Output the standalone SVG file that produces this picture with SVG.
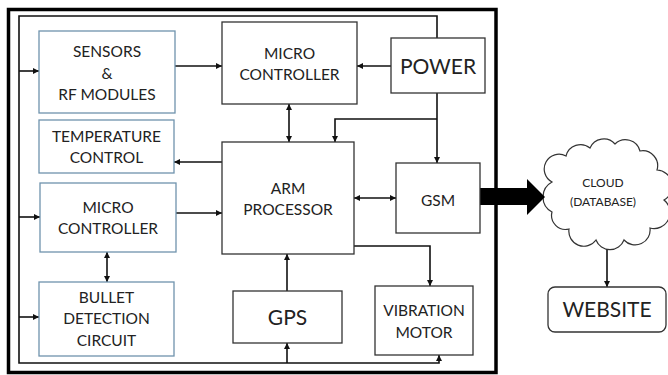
<svg xmlns="http://www.w3.org/2000/svg" width="668" height="375" viewBox="0 0 668 375">
<style>
.bb{fill:#fff;stroke:#6f93ad;stroke-width:1.3}
.kb{fill:#fff;stroke:#333;stroke-width:1.3}
.t{font-family:Lato,"Open Sans","Liberation Sans",sans-serif;font-size:15.5px;fill:#222;text-anchor:middle}
.tl{font-size:21px}
.ts{font-size:12px}
.c{fill:none;stroke:#111;stroke-width:1.6}
</style>
<defs>
<marker id="ah" markerUnits="userSpaceOnUse" markerWidth="7" markerHeight="7" refX="6" refY="3" orient="auto-start-reverse" viewBox="0 0 7 6">
<path d="M0,0 L6,3 L0,6 z" fill="#111"/>
</marker>
</defs>
<rect x="8.5" y="9.5" width="487.5" height="363" fill="#fff" stroke="#000" stroke-width="3.5"/>
<g id="connectors">
<path class="c" d="M437,38 V16 H19 V363 H439 V355" marker-end="url(#ah)"/>
<path class="c" d="M287,363 V343" marker-end="url(#ah)"/>
<path class="c" d="M19,71 H39" marker-end="url(#ah)"/>
<path class="c" d="M19,217 H40" marker-end="url(#ah)"/>
<path class="c" d="M19,317 H39" marker-end="url(#ah)"/>
<path class="c" d="M175,66 H222" marker-end="url(#ah)"/>
<path class="c" d="M391,66 H357" marker-end="url(#ah)"/>
<path class="c" d="M289,104 V142" marker-start="url(#ah)" marker-end="url(#ah)"/>
<path class="c" d="M437,93 V163" marker-end="url(#ah)"/>
<path class="c" d="M437,119 H335 V142" marker-end="url(#ah)"/>
<path class="c" d="M222,162 H174" marker-end="url(#ah)"/>
<path class="c" d="M176,213 H222" marker-end="url(#ah)"/>
<path class="c" d="M107,252 V282" marker-start="url(#ah)" marker-end="url(#ah)"/>
<path class="c" d="M354,198 H396" marker-start="url(#ah)" marker-end="url(#ah)"/>
<path class="c" d="M354,246 H430 V286" marker-end="url(#ah)"/>
<path class="c" d="M287,291 V254" marker-end="url(#ah)"/>
<path class="c" d="M607,242 V287" marker-end="url(#ah)"/>
</g>
<g id="cloud">
<path fill="#fff" stroke="#333" stroke-width="1.2" d="M552,182 A14,14 0 0 1 566,156 A15,15 0 0 1 590,148 A15,15 0 0 1 615,144 A15,15 0 0 1 640,151 A15,15 0 0 1 657,170 A16,16 0 0 1 664,200 A16,16 0 0 1 650,228 A15,15 0 0 1 624,240 A15,15 0 0 1 596,240 A15,15 0 0 1 569,229 A14,14 0 0 1 552,212 A17,17 0 0 1 552,182 Z"/>
<text class="t ts" x="603" y="186.5">CLOUD</text><text class="t ts" x="603" y="205.5">(DATABASE)</text></g>
<polygon points="480,188 527,188 527,179 545,197 527,215 527,205 480,205" fill="#000"/>
<g id="sensors"><rect class="bb" x="39" y="31" width="136" height="82"/>
<text class="t" x="107" y="56.5">SENSORS</text><text class="t" x="107" y="78.5">&amp;</text><text class="t" x="107" y="99.5">RF MODULES</text></g>
<g id="temperature"><rect class="bb" x="39" y="120" width="135" height="53"/>
<text class="t" x="106.5" y="141.5">TEMPERATURE</text><text class="t" x="106.5" y="162.5">CONTROL</text></g>
<g id="mc-left"><rect class="bb" x="40" y="183" width="136" height="69"/>
<text class="t" x="108" y="212.5">MICRO</text><text class="t" x="108" y="233.5">CONTROLLER</text></g>
<g id="bullet"><rect class="bb" x="39" y="282" width="135" height="74"/>
<text class="t" x="106.5" y="302.5">BULLET</text><text class="t" x="106.5" y="323.5">DETECTION</text><text class="t" x="106.5" y="345.5">CIRCUIT</text></g>
<g id="mc-top"><rect class="kb" x="222" y="22" width="135" height="82"/>
<text class="t" x="289.5" y="58.5">MICRO</text><text class="t" x="289.5" y="79.5">CONTROLLER</text></g>
<g id="power"><rect class="kb" x="391" y="38" width="94" height="55"/>
<text class="t tl" x="438" y="73.5">POWER</text></g>
<g id="arm"><rect class="kb" x="222" y="142" width="132" height="112"/>
<text class="t" x="288" y="193.5">ARM</text><text class="t" x="288" y="214.5">PROCESSOR</text></g>
<g id="gsm"><rect class="kb" x="396" y="163" width="84" height="70"/>
<text class="t" x="438" y="205.5">GSM</text></g>
<g id="gps"><rect class="kb" x="233" y="291" width="109" height="52"/>
<text class="t tl" x="287.5" y="324.5">GPS</text></g>
<g id="vibration"><rect class="kb" x="375" y="286" width="98" height="69"/>
<text class="t" x="424" y="315.5">VIBRATION</text><text class="t" x="424" y="337.5">MOTOR</text></g>
<g id="website"><rect x="548" y="287" width="118" height="45" rx="7" fill="#fff" stroke="#333" stroke-width="1.3"/>
<text class="t tl" x="607" y="316.5">WEBSITE</text></g>
</svg>
